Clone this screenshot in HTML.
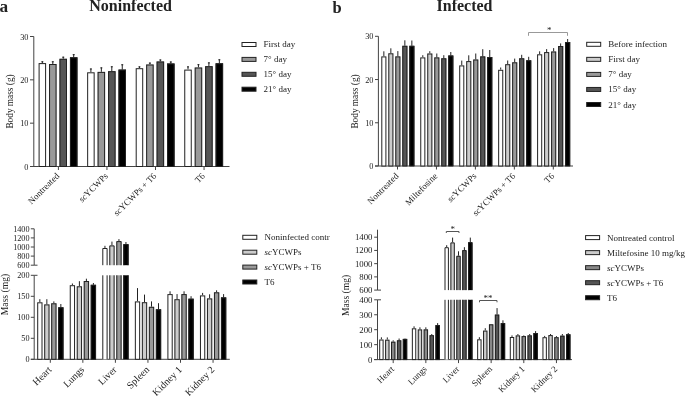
<!DOCTYPE html>
<html><head><meta charset="utf-8"><style>
html,body{margin:0;padding:0;background:#fff;}
body{width:685px;height:396px;overflow:hidden;}
svg{display:block;filter:grayscale(1) blur(0.35px);font-family:"Liberation Serif",serif;fill:#222;}
</style></head><body>
<svg width="685" height="396" viewBox="0 0 685 396">
<rect width="685" height="396" fill="#fff"/>
<g fill="#222">
<line x1="33.8" y1="36.5" x2="33.8" y2="166.5" stroke="#444" stroke-width="1"/>
<line x1="30" y1="166.5" x2="33.8" y2="166.5" stroke="#444" stroke-width="1"/>
<text x="28.5" y="169.5" font-size="8.3" text-anchor="end" >0</text>
<line x1="30" y1="123.16666666666666" x2="33.8" y2="123.16666666666666" stroke="#444" stroke-width="1"/>
<text x="28.5" y="126.16666666666666" font-size="8.3" text-anchor="end" >10</text>
<line x1="30" y1="79.83333333333333" x2="33.8" y2="79.83333333333333" stroke="#444" stroke-width="1"/>
<text x="28.5" y="82.83333333333333" font-size="8.3" text-anchor="end" >20</text>
<line x1="30" y1="36.5" x2="33.8" y2="36.5" stroke="#444" stroke-width="1"/>
<text x="28.5" y="39.5" font-size="8.3" text-anchor="end" >30</text>
<line x1="30" y1="166.5" x2="229.5" y2="166.5" stroke="#444" stroke-width="1"/>
<line x1="42.35" y1="61.3" x2="42.35" y2="63.1" stroke="#222" stroke-width="1"/>
<line x1="41.35" y1="61.8" x2="43.35" y2="61.8" stroke="#222" stroke-width="1"/>
<rect x="38.6" y="63.1" width="7.5" height="103.4" fill="#fff" stroke="none"/>
<rect x="39.1" y="63.6" width="6.5" height="102.9" fill="none" stroke="#222" stroke-width="1"/>
<line x1="52.8" y1="61.3" x2="52.8" y2="64" stroke="#222" stroke-width="1"/>
<line x1="51.8" y1="61.8" x2="53.8" y2="61.8" stroke="#222" stroke-width="1"/>
<rect x="49.05" y="64" width="7.5" height="102.5" fill="#999" stroke="none"/>
<rect x="49.55" y="64.5" width="6.5" height="102.0" fill="none" stroke="#222" stroke-width="1"/>
<line x1="63.25" y1="56.7" x2="63.25" y2="58.8" stroke="#222" stroke-width="1"/>
<line x1="62.25" y1="57.2" x2="64.25" y2="57.2" stroke="#222" stroke-width="1"/>
<rect x="59.5" y="58.8" width="7.5" height="107.7" fill="#555" stroke="none"/>
<rect x="60.0" y="59.3" width="6.5" height="107.2" fill="none" stroke="#222" stroke-width="1"/>
<line x1="73.7" y1="54.2" x2="73.7" y2="57.3" stroke="#222" stroke-width="1"/>
<line x1="72.7" y1="54.7" x2="74.7" y2="54.7" stroke="#222" stroke-width="1"/>
<rect x="69.95" y="57.3" width="7.5" height="109.2" fill="#000" stroke="none"/>
<rect x="70.45" y="57.8" width="6.5" height="108.7" fill="none" stroke="#222" stroke-width="1"/>
<line x1="58.400000000000006" y1="166.5" x2="58.400000000000006" y2="170.0" stroke="#444" stroke-width="1"/>
<text x="59.900000000000006" y="176.5" font-size="9" text-anchor="end" transform="rotate(-45 59.900000000000006 176.5)">Nontreated</text>
<line x1="90.9" y1="68.5" x2="90.9" y2="72.3" stroke="#222" stroke-width="1"/>
<line x1="89.9" y1="69.0" x2="91.9" y2="69.0" stroke="#222" stroke-width="1"/>
<rect x="87.15" y="72.3" width="7.5" height="94.2" fill="#fff" stroke="none"/>
<rect x="87.65" y="72.8" width="6.5" height="93.7" fill="none" stroke="#222" stroke-width="1"/>
<line x1="101.35" y1="67.4" x2="101.35" y2="71.9" stroke="#222" stroke-width="1"/>
<line x1="100.35" y1="67.9" x2="102.35" y2="67.9" stroke="#222" stroke-width="1"/>
<rect x="97.6" y="71.9" width="7.5" height="94.6" fill="#999" stroke="none"/>
<rect x="98.1" y="72.4" width="6.5" height="94.1" fill="none" stroke="#222" stroke-width="1"/>
<line x1="111.8" y1="66.3" x2="111.8" y2="71.2" stroke="#222" stroke-width="1"/>
<line x1="110.8" y1="66.8" x2="112.8" y2="66.8" stroke="#222" stroke-width="1"/>
<rect x="108.05" y="71.2" width="7.5" height="95.3" fill="#555" stroke="none"/>
<rect x="108.55" y="71.7" width="6.5" height="94.8" fill="none" stroke="#222" stroke-width="1"/>
<line x1="122.25" y1="64.3" x2="122.25" y2="69.6" stroke="#222" stroke-width="1"/>
<line x1="121.25" y1="64.8" x2="123.25" y2="64.8" stroke="#222" stroke-width="1"/>
<rect x="118.5" y="69.6" width="7.5" height="96.9" fill="#000" stroke="none"/>
<rect x="119.0" y="70.1" width="6.5" height="96.4" fill="none" stroke="#222" stroke-width="1"/>
<line x1="106.95" y1="166.5" x2="106.95" y2="170.0" stroke="#444" stroke-width="1"/>
<text x="108.45" y="176.5" font-size="9" text-anchor="end" transform="rotate(-45 108.45 176.5)"><tspan font-style="italic">sc</tspan>YCWPs</text>
<line x1="139.45" y1="66.4" x2="139.45" y2="68.2" stroke="#222" stroke-width="1"/>
<line x1="138.45" y1="66.9" x2="140.45" y2="66.9" stroke="#222" stroke-width="1"/>
<rect x="135.7" y="68.2" width="7.5" height="98.3" fill="#fff" stroke="none"/>
<rect x="136.2" y="68.7" width="6.5" height="97.8" fill="none" stroke="#222" stroke-width="1"/>
<line x1="149.9" y1="62.6" x2="149.9" y2="64.5" stroke="#222" stroke-width="1"/>
<line x1="148.9" y1="63.1" x2="150.9" y2="63.1" stroke="#222" stroke-width="1"/>
<rect x="146.15" y="64.5" width="7.5" height="102.0" fill="#999" stroke="none"/>
<rect x="146.65" y="65.0" width="6.5" height="101.5" fill="none" stroke="#222" stroke-width="1"/>
<line x1="160.35" y1="59.5" x2="160.35" y2="61.5" stroke="#222" stroke-width="1"/>
<line x1="159.35" y1="60.0" x2="161.35" y2="60.0" stroke="#222" stroke-width="1"/>
<rect x="156.6" y="61.5" width="7.5" height="105.0" fill="#555" stroke="none"/>
<rect x="157.1" y="62.0" width="6.5" height="104.5" fill="none" stroke="#222" stroke-width="1"/>
<line x1="170.8" y1="61.5" x2="170.8" y2="63.5" stroke="#222" stroke-width="1"/>
<line x1="169.8" y1="62.0" x2="171.8" y2="62.0" stroke="#222" stroke-width="1"/>
<rect x="167.05" y="63.5" width="7.5" height="103.0" fill="#000" stroke="none"/>
<rect x="167.55" y="64.0" width="6.5" height="102.5" fill="none" stroke="#222" stroke-width="1"/>
<line x1="155.5" y1="166.5" x2="155.5" y2="170.0" stroke="#444" stroke-width="1"/>
<text x="157.0" y="176.5" font-size="9" text-anchor="end" transform="rotate(-45 157.0 176.5)"><tspan font-style="italic">sc</tspan>YCWPs + T6</text>
<line x1="188.0" y1="66.4" x2="188.0" y2="69.6" stroke="#222" stroke-width="1"/>
<line x1="187.0" y1="66.9" x2="189.0" y2="66.9" stroke="#222" stroke-width="1"/>
<rect x="184.25" y="69.6" width="7.5" height="96.9" fill="#fff" stroke="none"/>
<rect x="184.75" y="70.1" width="6.5" height="96.4" fill="none" stroke="#222" stroke-width="1"/>
<line x1="198.45" y1="64.2" x2="198.45" y2="67.5" stroke="#222" stroke-width="1"/>
<line x1="197.45" y1="64.7" x2="199.45" y2="64.7" stroke="#222" stroke-width="1"/>
<rect x="194.7" y="67.5" width="7.5" height="99.0" fill="#999" stroke="none"/>
<rect x="195.2" y="68.0" width="6.5" height="98.5" fill="none" stroke="#222" stroke-width="1"/>
<line x1="208.9" y1="62.4" x2="208.9" y2="66.2" stroke="#222" stroke-width="1"/>
<line x1="207.9" y1="62.9" x2="209.9" y2="62.9" stroke="#222" stroke-width="1"/>
<rect x="205.15" y="66.2" width="7.5" height="100.3" fill="#555" stroke="none"/>
<rect x="205.65" y="66.7" width="6.5" height="99.8" fill="none" stroke="#222" stroke-width="1"/>
<line x1="219.35" y1="59.3" x2="219.35" y2="63.3" stroke="#222" stroke-width="1"/>
<line x1="218.35" y1="59.8" x2="220.35" y2="59.8" stroke="#222" stroke-width="1"/>
<rect x="215.6" y="63.3" width="7.5" height="103.2" fill="#000" stroke="none"/>
<rect x="216.1" y="63.8" width="6.5" height="102.7" fill="none" stroke="#222" stroke-width="1"/>
<line x1="204.04999999999998" y1="166.5" x2="204.04999999999998" y2="170.0" stroke="#444" stroke-width="1"/>
<text x="205.54999999999998" y="176.5" font-size="9" text-anchor="end" transform="rotate(-45 205.54999999999998 176.5)">T6</text>
<text x="0" y="0" font-size="9.3" text-anchor="middle" transform="translate(13.2 101.5) rotate(-90)">Body mass (g)</text>
<rect x="242.0" y="42.5" width="14" height="4" fill="#fff" stroke="#222" stroke-width="1"/>
<text x="263.6" y="47.0" font-size="9" text-anchor="start" >First day</text>
<rect x="242.0" y="57.4" width="14" height="4" fill="#999" stroke="#222" stroke-width="1"/>
<text x="263.6" y="61.9" font-size="9" text-anchor="start" >7° day</text>
<rect x="242.0" y="72.3" width="14" height="4" fill="#555" stroke="#222" stroke-width="1"/>
<text x="263.6" y="76.8" font-size="9" text-anchor="start" >15° day</text>
<rect x="242.0" y="87.2" width="14" height="4" fill="#000" stroke="#222" stroke-width="1"/>
<text x="263.6" y="91.7" font-size="9" text-anchor="start" >21° day</text>
<line x1="378.4" y1="36.3" x2="378.4" y2="166" stroke="#444" stroke-width="1"/>
<line x1="375" y1="166.0" x2="378.4" y2="166.0" stroke="#444" stroke-width="1"/>
<text x="373.5" y="169.0" font-size="8.3" text-anchor="end" >0</text>
<line x1="375" y1="122.76666666666667" x2="378.4" y2="122.76666666666667" stroke="#444" stroke-width="1"/>
<text x="373.5" y="125.76666666666667" font-size="8.3" text-anchor="end" >10</text>
<line x1="375" y1="79.53333333333333" x2="378.4" y2="79.53333333333333" stroke="#444" stroke-width="1"/>
<text x="373.5" y="82.53333333333333" font-size="8.3" text-anchor="end" >20</text>
<line x1="375" y1="36.30000000000001" x2="378.4" y2="36.30000000000001" stroke="#444" stroke-width="1"/>
<text x="373.5" y="39.30000000000001" font-size="8.3" text-anchor="end" >30</text>
<line x1="375" y1="166" x2="573" y2="166" stroke="#444" stroke-width="1"/>
<line x1="383.85" y1="51.3" x2="383.85" y2="56.4" stroke="#222" stroke-width="1"/>
<rect x="381.3" y="56.4" width="5.1" height="109.6" fill="#fff" stroke="none"/>
<rect x="381.8" y="56.9" width="4.1" height="109.1" fill="none" stroke="#222" stroke-width="1"/>
<line x1="390.85" y1="48.3" x2="390.85" y2="53.3" stroke="#222" stroke-width="1"/>
<rect x="388.3" y="53.3" width="5.1" height="112.7" fill="#ccc" stroke="none"/>
<rect x="388.8" y="53.8" width="4.1" height="112.2" fill="none" stroke="#222" stroke-width="1"/>
<line x1="397.85" y1="51.1" x2="397.85" y2="56.4" stroke="#222" stroke-width="1"/>
<rect x="395.3" y="56.4" width="5.1" height="109.6" fill="#999" stroke="none"/>
<rect x="395.8" y="56.9" width="4.1" height="109.1" fill="none" stroke="#222" stroke-width="1"/>
<line x1="404.85" y1="40.3" x2="404.85" y2="45.8" stroke="#222" stroke-width="1"/>
<rect x="402.3" y="45.8" width="5.1" height="120.2" fill="#555" stroke="none"/>
<rect x="402.8" y="46.3" width="4.1" height="119.7" fill="none" stroke="#222" stroke-width="1"/>
<line x1="411.85" y1="40.5" x2="411.85" y2="45.8" stroke="#222" stroke-width="1"/>
<rect x="409.3" y="45.8" width="5.1" height="120.2" fill="#000" stroke="none"/>
<rect x="409.8" y="46.3" width="4.1" height="119.7" fill="none" stroke="#222" stroke-width="1"/>
<line x1="397.5" y1="166" x2="397.5" y2="169.5" stroke="#444" stroke-width="1"/>
<text x="399.1" y="176.6" font-size="9" text-anchor="end" transform="rotate(-45 399.1 176.6)">Nontreated</text>
<line x1="422.8" y1="55.2" x2="422.8" y2="57.4" stroke="#222" stroke-width="1"/>
<rect x="420.25" y="57.4" width="5.1" height="108.6" fill="#fff" stroke="none"/>
<rect x="420.75" y="57.9" width="4.1" height="108.1" fill="none" stroke="#222" stroke-width="1"/>
<line x1="429.8" y1="51.2" x2="429.8" y2="53.5" stroke="#222" stroke-width="1"/>
<rect x="427.25" y="53.5" width="5.1" height="112.5" fill="#ccc" stroke="none"/>
<rect x="427.75" y="54.0" width="4.1" height="112.0" fill="none" stroke="#222" stroke-width="1"/>
<line x1="436.8" y1="53.5" x2="436.8" y2="57.4" stroke="#222" stroke-width="1"/>
<rect x="434.25" y="57.4" width="5.1" height="108.6" fill="#999" stroke="none"/>
<rect x="434.75" y="57.9" width="4.1" height="108.1" fill="none" stroke="#222" stroke-width="1"/>
<line x1="443.8" y1="55.2" x2="443.8" y2="58.3" stroke="#222" stroke-width="1"/>
<rect x="441.25" y="58.3" width="5.1" height="107.7" fill="#555" stroke="none"/>
<rect x="441.75" y="58.8" width="4.1" height="107.2" fill="none" stroke="#222" stroke-width="1"/>
<line x1="450.8" y1="52" x2="450.8" y2="55.5" stroke="#222" stroke-width="1"/>
<rect x="448.25" y="55.5" width="5.1" height="110.5" fill="#000" stroke="none"/>
<rect x="448.75" y="56.0" width="4.1" height="110.0" fill="none" stroke="#222" stroke-width="1"/>
<line x1="436.45" y1="166" x2="436.45" y2="169.5" stroke="#444" stroke-width="1"/>
<text x="438.05" y="176.6" font-size="9" text-anchor="end" transform="rotate(-45 438.05 176.6)">Miltefosine</text>
<line x1="461.75" y1="60.6" x2="461.75" y2="65.4" stroke="#222" stroke-width="1"/>
<rect x="459.2" y="65.4" width="5.1" height="100.6" fill="#fff" stroke="none"/>
<rect x="459.7" y="65.9" width="4.1" height="100.1" fill="none" stroke="#222" stroke-width="1"/>
<line x1="468.75" y1="55.3" x2="468.75" y2="61.1" stroke="#222" stroke-width="1"/>
<rect x="466.2" y="61.1" width="5.1" height="104.9" fill="#ccc" stroke="none"/>
<rect x="466.7" y="61.6" width="4.1" height="104.4" fill="none" stroke="#222" stroke-width="1"/>
<line x1="475.75" y1="53.5" x2="475.75" y2="59.5" stroke="#222" stroke-width="1"/>
<rect x="473.2" y="59.5" width="5.1" height="106.5" fill="#999" stroke="none"/>
<rect x="473.7" y="60.0" width="4.1" height="106.0" fill="none" stroke="#222" stroke-width="1"/>
<line x1="482.75" y1="49.2" x2="482.75" y2="56.4" stroke="#222" stroke-width="1"/>
<rect x="480.2" y="56.4" width="5.1" height="109.6" fill="#555" stroke="none"/>
<rect x="480.7" y="56.9" width="4.1" height="109.1" fill="none" stroke="#222" stroke-width="1"/>
<line x1="489.75" y1="50" x2="489.75" y2="57" stroke="#222" stroke-width="1"/>
<rect x="487.2" y="57" width="5.1" height="109" fill="#000" stroke="none"/>
<rect x="487.7" y="57.5" width="4.1" height="108.5" fill="none" stroke="#222" stroke-width="1"/>
<line x1="475.40000000000003" y1="166" x2="475.40000000000003" y2="169.5" stroke="#444" stroke-width="1"/>
<text x="477.00000000000006" y="176.6" font-size="9" text-anchor="end" transform="rotate(-45 477.00000000000006 176.6)"><tspan font-style="italic">sc</tspan>YCWPs</text>
<line x1="500.7" y1="67.5" x2="500.7" y2="69.8" stroke="#222" stroke-width="1"/>
<rect x="498.15" y="69.8" width="5.1" height="96.2" fill="#fff" stroke="none"/>
<rect x="498.65" y="70.3" width="4.1" height="95.7" fill="none" stroke="#222" stroke-width="1"/>
<line x1="507.7" y1="60.5" x2="507.7" y2="64.2" stroke="#222" stroke-width="1"/>
<rect x="505.15" y="64.2" width="5.1" height="101.8" fill="#ccc" stroke="none"/>
<rect x="505.65" y="64.7" width="4.1" height="101.3" fill="none" stroke="#222" stroke-width="1"/>
<line x1="514.6999999999999" y1="58.6" x2="514.6999999999999" y2="62.3" stroke="#222" stroke-width="1"/>
<rect x="512.15" y="62.3" width="5.1" height="103.7" fill="#999" stroke="none"/>
<rect x="512.65" y="62.8" width="4.1" height="103.2" fill="none" stroke="#222" stroke-width="1"/>
<line x1="521.6999999999999" y1="54.8" x2="521.6999999999999" y2="58.3" stroke="#222" stroke-width="1"/>
<rect x="519.15" y="58.3" width="5.1" height="107.7" fill="#555" stroke="none"/>
<rect x="519.65" y="58.8" width="4.1" height="107.2" fill="none" stroke="#222" stroke-width="1"/>
<line x1="528.6999999999999" y1="56.8" x2="528.6999999999999" y2="60.3" stroke="#222" stroke-width="1"/>
<rect x="526.15" y="60.3" width="5.1" height="105.7" fill="#000" stroke="none"/>
<rect x="526.65" y="60.8" width="4.1" height="105.2" fill="none" stroke="#222" stroke-width="1"/>
<line x1="514.35" y1="166" x2="514.35" y2="169.5" stroke="#444" stroke-width="1"/>
<text x="515.95" y="176.6" font-size="9" text-anchor="end" transform="rotate(-45 515.95 176.6)"><tspan font-style="italic">sc</tspan>YCWPs + T6</text>
<line x1="539.65" y1="51.3" x2="539.65" y2="54.3" stroke="#222" stroke-width="1"/>
<rect x="537.1" y="54.3" width="5.1" height="111.7" fill="#fff" stroke="none"/>
<rect x="537.6" y="54.8" width="4.1" height="111.2" fill="none" stroke="#222" stroke-width="1"/>
<line x1="546.65" y1="49.1" x2="546.65" y2="52.1" stroke="#222" stroke-width="1"/>
<rect x="544.1" y="52.1" width="5.1" height="113.9" fill="#ccc" stroke="none"/>
<rect x="544.6" y="52.6" width="4.1" height="113.4" fill="none" stroke="#222" stroke-width="1"/>
<line x1="553.65" y1="48.1" x2="553.65" y2="51.5" stroke="#222" stroke-width="1"/>
<rect x="551.1" y="51.5" width="5.1" height="114.5" fill="#999" stroke="none"/>
<rect x="551.6" y="52.0" width="4.1" height="114.0" fill="none" stroke="#222" stroke-width="1"/>
<line x1="560.65" y1="43.4" x2="560.65" y2="46" stroke="#222" stroke-width="1"/>
<rect x="558.1" y="46" width="5.1" height="120" fill="#555" stroke="none"/>
<rect x="558.6" y="46.5" width="4.1" height="119.5" fill="none" stroke="#222" stroke-width="1"/>
<line x1="567.65" y1="39" x2="567.65" y2="42" stroke="#222" stroke-width="1"/>
<rect x="565.1" y="42" width="5.1" height="124" fill="#000" stroke="none"/>
<rect x="565.6" y="42.5" width="4.1" height="123.5" fill="none" stroke="#222" stroke-width="1"/>
<line x1="553.3000000000001" y1="166" x2="553.3000000000001" y2="169.5" stroke="#444" stroke-width="1"/>
<text x="554.9000000000001" y="176.6" font-size="9" text-anchor="end" transform="rotate(-45 554.9000000000001 176.6)">T6</text>
<path d="M528.5,35.8 V32.5 H567.5 V35.8" fill="none" stroke="#999" stroke-width="1"/>
<text x="549.2" y="32.8" font-size="9" text-anchor="middle" >*</text>
<text x="0" y="0" font-size="9.3" text-anchor="middle" transform="translate(358 101.5) rotate(-90)">Body mass (g)</text>
<rect x="586.7" y="42.3" width="14" height="4" fill="#fff" stroke="#222" stroke-width="1"/>
<text x="608.3" y="47.3" font-size="9" text-anchor="start" >Before infection</text>
<rect x="586.7" y="57.349999999999994" width="14" height="4" fill="#ccc" stroke="#222" stroke-width="1"/>
<text x="608.3" y="62.35" font-size="9" text-anchor="start" >First day</text>
<rect x="586.7" y="72.4" width="14" height="4" fill="#999" stroke="#222" stroke-width="1"/>
<text x="608.3" y="77.4" font-size="9" text-anchor="start" >7° day</text>
<rect x="586.7" y="87.45" width="14" height="4" fill="#555" stroke="#222" stroke-width="1"/>
<text x="608.3" y="92.45" font-size="9" text-anchor="start" >15° day</text>
<rect x="586.7" y="102.5" width="14" height="4" fill="#000" stroke="#222" stroke-width="1"/>
<text x="608.3" y="107.5" font-size="9" text-anchor="start" >21° day</text>
<line x1="34.2" y1="228.8" x2="34.2" y2="265.2" stroke="#444" stroke-width="1"/>
<line x1="30.8" y1="265.2" x2="34.2" y2="265.2" stroke="#444" stroke-width="1"/>
<text x="29.5" y="268.2" font-size="8.2" text-anchor="end" >600</text>
<line x1="30.8" y1="256.1" x2="34.2" y2="256.1" stroke="#444" stroke-width="1"/>
<text x="29.5" y="259.1" font-size="8.2" text-anchor="end" >800</text>
<line x1="30.8" y1="247.0" x2="34.2" y2="247.0" stroke="#444" stroke-width="1"/>
<text x="29.5" y="250.0" font-size="8.2" text-anchor="end" >1000</text>
<line x1="30.8" y1="237.9" x2="34.2" y2="237.9" stroke="#444" stroke-width="1"/>
<text x="29.5" y="240.9" font-size="8.2" text-anchor="end" >1200</text>
<line x1="30.8" y1="228.8" x2="34.2" y2="228.8" stroke="#444" stroke-width="1"/>
<text x="29.5" y="231.8" font-size="8.2" text-anchor="end" >1400</text>
<line x1="34.2" y1="265.2" x2="37.5" y2="265.2" stroke="#444" stroke-width="1"/>
<line x1="34.2" y1="275.3" x2="34.2" y2="359.3" stroke="#444" stroke-width="1"/>
<line x1="30.8" y1="359.3" x2="34.2" y2="359.3" stroke="#444" stroke-width="1"/>
<text x="29.5" y="362.3" font-size="8.2" text-anchor="end" >0</text>
<line x1="30.8" y1="338.3" x2="34.2" y2="338.3" stroke="#444" stroke-width="1"/>
<text x="29.5" y="341.3" font-size="8.2" text-anchor="end" >50</text>
<line x1="30.8" y1="317.3" x2="34.2" y2="317.3" stroke="#444" stroke-width="1"/>
<text x="29.5" y="320.3" font-size="8.2" text-anchor="end" >100</text>
<line x1="30.8" y1="296.3" x2="34.2" y2="296.3" stroke="#444" stroke-width="1"/>
<text x="29.5" y="299.3" font-size="8.2" text-anchor="end" >150</text>
<line x1="30.8" y1="275.3" x2="34.2" y2="275.3" stroke="#444" stroke-width="1"/>
<text x="29.5" y="278.3" font-size="8.2" text-anchor="end" >200</text>
<line x1="34.2" y1="275.3" x2="37.5" y2="275.3" stroke="#444" stroke-width="1"/>
<line x1="30.8" y1="359.3" x2="229.8" y2="359.3" stroke="#444" stroke-width="1"/>
<line x1="39.85" y1="299.2" x2="39.85" y2="302.3" stroke="#222" stroke-width="1"/>
<rect x="37.2" y="302.3" width="5.3" height="57.0" fill="#fff" stroke="none"/>
<rect x="37.7" y="302.8" width="4.3" height="56.5" fill="none" stroke="#222" stroke-width="1"/>
<line x1="46.85" y1="299.2" x2="46.85" y2="304.4" stroke="#222" stroke-width="1"/>
<rect x="44.2" y="304.4" width="5.3" height="54.900000000000034" fill="#ccc" stroke="none"/>
<rect x="44.7" y="304.9" width="4.3" height="54.400000000000034" fill="none" stroke="#222" stroke-width="1"/>
<line x1="53.85" y1="301.4" x2="53.85" y2="303.3" stroke="#222" stroke-width="1"/>
<rect x="51.2" y="303.3" width="5.3" height="56.0" fill="#999" stroke="none"/>
<rect x="51.7" y="303.8" width="4.3" height="55.5" fill="none" stroke="#222" stroke-width="1"/>
<line x1="60.85" y1="304" x2="60.85" y2="307.3" stroke="#222" stroke-width="1"/>
<rect x="58.2" y="307.3" width="5.3" height="52.0" fill="#000" stroke="none"/>
<rect x="58.7" y="307.8" width="4.3" height="51.5" fill="none" stroke="#222" stroke-width="1"/>
<line x1="50.300000000000004" y1="359.3" x2="50.300000000000004" y2="362.8" stroke="#444" stroke-width="1"/>
<text x="52.300000000000004" y="370.3" font-size="10" text-anchor="end" transform="rotate(-45 52.300000000000004 370.3)">Heart</text>
<line x1="72.4" y1="283.5" x2="72.4" y2="285.2" stroke="#222" stroke-width="1"/>
<rect x="69.75" y="285.2" width="5.3" height="74.10000000000002" fill="#fff" stroke="none"/>
<rect x="70.25" y="285.7" width="4.3" height="73.60000000000002" fill="none" stroke="#222" stroke-width="1"/>
<line x1="79.4" y1="281.2" x2="79.4" y2="286.3" stroke="#222" stroke-width="1"/>
<rect x="76.75" y="286.3" width="5.3" height="73.0" fill="#ccc" stroke="none"/>
<rect x="77.25" y="286.8" width="4.3" height="72.5" fill="none" stroke="#222" stroke-width="1"/>
<line x1="86.4" y1="278.7" x2="86.4" y2="281" stroke="#222" stroke-width="1"/>
<rect x="83.75" y="281" width="5.3" height="78.30000000000001" fill="#999" stroke="none"/>
<rect x="84.25" y="281.5" width="4.3" height="77.80000000000001" fill="none" stroke="#222" stroke-width="1"/>
<line x1="93.4" y1="283" x2="93.4" y2="284.8" stroke="#222" stroke-width="1"/>
<rect x="90.75" y="284.8" width="5.3" height="74.5" fill="#000" stroke="none"/>
<rect x="91.25" y="285.3" width="4.3" height="74.0" fill="none" stroke="#222" stroke-width="1"/>
<line x1="82.85" y1="359.3" x2="82.85" y2="362.8" stroke="#444" stroke-width="1"/>
<text x="84.85" y="370.3" font-size="10" text-anchor="end" transform="rotate(-45 84.85 370.3)">Lungs</text>
<line x1="104.95" y1="245.8" x2="104.95" y2="248" stroke="#222" stroke-width="1"/>
<rect x="102.3" y="248" width="5.3" height="17.19999999999999" fill="#fff" stroke="none"/>
<path d="M102.8,265.2 V248.5 H107.1 V265.2" fill="none" stroke="#222" stroke-width="1"/>
<rect x="102.3" y="275.3" width="5.3" height="84.0" fill="#fff" stroke="none"/>
<path d="M102.8,275.3 V359.3 M107.1,275.3 V359.3" fill="none" stroke="#222" stroke-width="1"/>
<line x1="111.95" y1="241.6" x2="111.95" y2="245.4" stroke="#222" stroke-width="1"/>
<rect x="109.3" y="245.4" width="5.3" height="19.799999999999983" fill="#ccc" stroke="none"/>
<path d="M109.8,265.2 V245.9 H114.1 V265.2" fill="none" stroke="#222" stroke-width="1"/>
<rect x="109.3" y="275.3" width="5.3" height="84.0" fill="#ccc" stroke="none"/>
<path d="M109.8,275.3 V359.3 M114.1,275.3 V359.3" fill="none" stroke="#222" stroke-width="1"/>
<line x1="118.95" y1="239.1" x2="118.95" y2="241.1" stroke="#222" stroke-width="1"/>
<rect x="116.3" y="241.1" width="5.3" height="24.099999999999994" fill="#999" stroke="none"/>
<path d="M116.8,265.2 V241.6 H121.1 V265.2" fill="none" stroke="#222" stroke-width="1"/>
<rect x="116.3" y="275.3" width="5.3" height="84.0" fill="#999" stroke="none"/>
<path d="M116.8,275.3 V359.3 M121.1,275.3 V359.3" fill="none" stroke="#222" stroke-width="1"/>
<line x1="125.95" y1="242" x2="125.95" y2="244.1" stroke="#222" stroke-width="1"/>
<rect x="123.3" y="244.1" width="5.3" height="21.099999999999994" fill="#000" stroke="none"/>
<path d="M123.8,265.2 V244.6 H128.1 V265.2" fill="none" stroke="#222" stroke-width="1"/>
<rect x="123.3" y="275.3" width="5.3" height="84.0" fill="#000" stroke="none"/>
<path d="M123.8,275.3 V359.3 M128.1,275.3 V359.3" fill="none" stroke="#222" stroke-width="1"/>
<line x1="115.39999999999999" y1="359.3" x2="115.39999999999999" y2="362.8" stroke="#444" stroke-width="1"/>
<text x="117.39999999999999" y="370.3" font-size="10" text-anchor="end" transform="rotate(-45 117.39999999999999 370.3)">Liver</text>
<line x1="137.5" y1="288.1" x2="137.5" y2="301.4" stroke="#222" stroke-width="1"/>
<rect x="134.85" y="301.4" width="5.3" height="57.900000000000034" fill="#fff" stroke="none"/>
<rect x="135.35" y="301.9" width="4.3" height="57.400000000000034" fill="none" stroke="#222" stroke-width="1"/>
<line x1="144.5" y1="294.6" x2="144.5" y2="302.2" stroke="#222" stroke-width="1"/>
<rect x="141.85" y="302.2" width="5.3" height="57.10000000000002" fill="#ccc" stroke="none"/>
<rect x="142.35" y="302.7" width="4.3" height="56.60000000000002" fill="none" stroke="#222" stroke-width="1"/>
<line x1="151.5" y1="301.4" x2="151.5" y2="306.8" stroke="#222" stroke-width="1"/>
<rect x="148.85" y="306.8" width="5.3" height="52.5" fill="#999" stroke="none"/>
<rect x="149.35" y="307.3" width="4.3" height="52.0" fill="none" stroke="#222" stroke-width="1"/>
<line x1="158.5" y1="303.2" x2="158.5" y2="309.3" stroke="#222" stroke-width="1"/>
<rect x="155.85" y="309.3" width="5.3" height="50.0" fill="#000" stroke="none"/>
<rect x="156.35" y="309.8" width="4.3" height="49.5" fill="none" stroke="#222" stroke-width="1"/>
<line x1="147.95" y1="359.3" x2="147.95" y2="362.8" stroke="#444" stroke-width="1"/>
<text x="149.95" y="370.3" font-size="10" text-anchor="end" transform="rotate(-45 149.95 370.3)">Spleen</text>
<line x1="170.05" y1="291.3" x2="170.05" y2="294.1" stroke="#222" stroke-width="1"/>
<rect x="167.4" y="294.1" width="5.3" height="65.19999999999999" fill="#fff" stroke="none"/>
<rect x="167.9" y="294.6" width="4.3" height="64.69999999999999" fill="none" stroke="#222" stroke-width="1"/>
<line x1="177.05" y1="294.1" x2="177.05" y2="299.2" stroke="#222" stroke-width="1"/>
<rect x="174.4" y="299.2" width="5.3" height="60.10000000000002" fill="#ccc" stroke="none"/>
<rect x="174.9" y="299.7" width="4.3" height="59.60000000000002" fill="none" stroke="#222" stroke-width="1"/>
<line x1="184.05" y1="291.3" x2="184.05" y2="294.1" stroke="#222" stroke-width="1"/>
<rect x="181.4" y="294.1" width="5.3" height="65.19999999999999" fill="#999" stroke="none"/>
<rect x="181.9" y="294.6" width="4.3" height="64.69999999999999" fill="none" stroke="#222" stroke-width="1"/>
<line x1="191.05" y1="296.2" x2="191.05" y2="298.7" stroke="#222" stroke-width="1"/>
<rect x="188.4" y="298.7" width="5.3" height="60.60000000000002" fill="#000" stroke="none"/>
<rect x="188.9" y="299.2" width="4.3" height="60.10000000000002" fill="none" stroke="#222" stroke-width="1"/>
<line x1="180.49999999999997" y1="359.3" x2="180.49999999999997" y2="362.8" stroke="#444" stroke-width="1"/>
<text x="182.49999999999997" y="370.3" font-size="10" text-anchor="end" transform="rotate(-45 182.49999999999997 370.3)">Kidney 1</text>
<line x1="202.6" y1="292.9" x2="202.6" y2="295.4" stroke="#222" stroke-width="1"/>
<rect x="199.95" y="295.4" width="5.3" height="63.900000000000034" fill="#fff" stroke="none"/>
<rect x="200.45" y="295.9" width="4.3" height="63.400000000000034" fill="none" stroke="#222" stroke-width="1"/>
<line x1="209.6" y1="294.3" x2="209.6" y2="298.4" stroke="#222" stroke-width="1"/>
<rect x="206.95" y="298.4" width="5.3" height="60.900000000000034" fill="#ccc" stroke="none"/>
<rect x="207.45" y="298.9" width="4.3" height="60.400000000000034" fill="none" stroke="#222" stroke-width="1"/>
<line x1="216.6" y1="290.3" x2="216.6" y2="292.3" stroke="#222" stroke-width="1"/>
<rect x="213.95" y="292.3" width="5.3" height="67.0" fill="#999" stroke="none"/>
<rect x="214.45" y="292.8" width="4.3" height="66.5" fill="none" stroke="#222" stroke-width="1"/>
<line x1="223.6" y1="294.1" x2="223.6" y2="297.4" stroke="#222" stroke-width="1"/>
<rect x="220.95" y="297.4" width="5.3" height="61.900000000000034" fill="#000" stroke="none"/>
<rect x="221.45" y="297.9" width="4.3" height="61.400000000000034" fill="none" stroke="#222" stroke-width="1"/>
<line x1="213.04999999999998" y1="359.3" x2="213.04999999999998" y2="362.8" stroke="#444" stroke-width="1"/>
<text x="215.04999999999998" y="370.3" font-size="10" text-anchor="end" transform="rotate(-45 215.04999999999998 370.3)">Kidney 2</text>
<text x="0" y="0" font-size="9.6" text-anchor="middle" transform="translate(8.3 294.5) rotate(-90)">Mass (mg)</text>
<rect x="242.8" y="235.3" width="14" height="4" fill="#fff" stroke="#222" stroke-width="1"/>
<text x="264.5" y="240.3" font-size="9" text-anchor="start" >Noninfected contr</text>
<rect x="242.8" y="250.20000000000002" width="14" height="4" fill="#ccc" stroke="#222" stroke-width="1"/>
<text x="264.5" y="255.2" font-size="9" text-anchor="start" ><tspan font-style="italic">sc</tspan>YCWPs</text>
<rect x="242.8" y="265.1" width="14" height="4" fill="#999" stroke="#222" stroke-width="1"/>
<text x="264.5" y="270.1" font-size="9" text-anchor="start" ><tspan font-style="italic">sc</tspan>YCWPs + T6</text>
<rect x="242.8" y="280.0" width="14" height="4" fill="#000" stroke="#222" stroke-width="1"/>
<text x="264.5" y="285.0" font-size="9" text-anchor="start" >T6</text>
<line x1="377.5" y1="229.7" x2="377.5" y2="290.1" stroke="#444" stroke-width="1"/>
<line x1="374.2" y1="290.1" x2="377.5" y2="290.1" stroke="#444" stroke-width="1"/>
<text x="372.5" y="293.1" font-size="8.8" text-anchor="end" >600</text>
<line x1="374.2" y1="276.875" x2="377.5" y2="276.875" stroke="#444" stroke-width="1"/>
<text x="372.5" y="279.875" font-size="8.8" text-anchor="end" >800</text>
<line x1="374.2" y1="263.65" x2="377.5" y2="263.65" stroke="#444" stroke-width="1"/>
<text x="372.5" y="266.65" font-size="8.8" text-anchor="end" >1000</text>
<line x1="374.2" y1="250.425" x2="377.5" y2="250.425" stroke="#444" stroke-width="1"/>
<text x="372.5" y="253.425" font-size="8.8" text-anchor="end" >1200</text>
<line x1="374.2" y1="237.2" x2="377.5" y2="237.2" stroke="#444" stroke-width="1"/>
<text x="372.5" y="240.2" font-size="8.8" text-anchor="end" >1400</text>
<line x1="377.5" y1="290.1" x2="381" y2="290.1" stroke="#444" stroke-width="1"/>
<line x1="377.5" y1="299.8" x2="377.5" y2="359.6" stroke="#444" stroke-width="1"/>
<line x1="374.2" y1="359.6" x2="377.5" y2="359.6" stroke="#444" stroke-width="1"/>
<text x="372.5" y="362.6" font-size="8.8" text-anchor="end" >0</text>
<line x1="374.2" y1="344.65000000000003" x2="377.5" y2="344.65000000000003" stroke="#444" stroke-width="1"/>
<text x="372.5" y="347.65000000000003" font-size="8.8" text-anchor="end" >100</text>
<line x1="374.2" y1="329.70000000000005" x2="377.5" y2="329.70000000000005" stroke="#444" stroke-width="1"/>
<text x="372.5" y="332.70000000000005" font-size="8.8" text-anchor="end" >200</text>
<line x1="374.2" y1="314.75" x2="377.5" y2="314.75" stroke="#444" stroke-width="1"/>
<text x="372.5" y="317.75" font-size="8.8" text-anchor="end" >300</text>
<line x1="374.2" y1="299.8" x2="377.5" y2="299.8" stroke="#444" stroke-width="1"/>
<text x="372.5" y="302.8" font-size="8.8" text-anchor="end" >400</text>
<line x1="377.5" y1="299.8" x2="381" y2="299.8" stroke="#444" stroke-width="1"/>
<line x1="374.2" y1="359.6" x2="572" y2="359.6" stroke="#444" stroke-width="1"/>
<line x1="381.4" y1="337.3" x2="381.4" y2="339.5" stroke="#222" stroke-width="1"/>
<rect x="379.2" y="339.5" width="4.4" height="20.100000000000023" fill="#fff" stroke="none"/>
<rect x="379.7" y="340.0" width="3.4000000000000004" height="19.600000000000023" fill="none" stroke="#222" stroke-width="1"/>
<line x1="387.3" y1="337.4" x2="387.3" y2="339.7" stroke="#222" stroke-width="1"/>
<rect x="385.1" y="339.7" width="4.4" height="19.900000000000034" fill="#ccc" stroke="none"/>
<rect x="385.6" y="340.2" width="3.4000000000000004" height="19.400000000000034" fill="none" stroke="#222" stroke-width="1"/>
<line x1="393.2" y1="340.3" x2="393.2" y2="341.7" stroke="#222" stroke-width="1"/>
<rect x="391.0" y="341.7" width="4.4" height="17.900000000000034" fill="#888" stroke="none"/>
<rect x="391.5" y="342.2" width="3.4000000000000004" height="17.400000000000034" fill="none" stroke="#222" stroke-width="1"/>
<line x1="399.09999999999997" y1="338.5" x2="399.09999999999997" y2="340.3" stroke="#222" stroke-width="1"/>
<rect x="396.9" y="340.3" width="4.4" height="19.30000000000001" fill="#555" stroke="none"/>
<rect x="397.4" y="340.8" width="3.4000000000000004" height="18.80000000000001" fill="none" stroke="#222" stroke-width="1"/>
<line x1="405.0" y1="338.5" x2="405.0" y2="338.9" stroke="#222" stroke-width="1"/>
<rect x="402.8" y="338.9" width="4.4" height="20.700000000000045" fill="#000" stroke="none"/>
<rect x="403.3" y="339.4" width="3.4000000000000004" height="20.200000000000045" fill="none" stroke="#222" stroke-width="1"/>
<line x1="393.2" y1="359.6" x2="393.2" y2="363.1" stroke="#444" stroke-width="1"/>
<text x="394.7" y="369.6" font-size="9" text-anchor="end" transform="rotate(-45 394.7 369.6)">Heart</text>
<line x1="414.05" y1="326.3" x2="414.05" y2="328.3" stroke="#222" stroke-width="1"/>
<rect x="411.85" y="328.3" width="4.4" height="31.30000000000001" fill="#fff" stroke="none"/>
<rect x="412.35" y="328.8" width="3.4000000000000004" height="30.80000000000001" fill="none" stroke="#222" stroke-width="1"/>
<line x1="419.95" y1="327.3" x2="419.95" y2="329.4" stroke="#222" stroke-width="1"/>
<rect x="417.75" y="329.4" width="4.4" height="30.200000000000045" fill="#ccc" stroke="none"/>
<rect x="418.25" y="329.9" width="3.4000000000000004" height="29.700000000000045" fill="none" stroke="#222" stroke-width="1"/>
<line x1="425.84999999999997" y1="327.3" x2="425.84999999999997" y2="329.4" stroke="#222" stroke-width="1"/>
<rect x="423.65" y="329.4" width="4.4" height="30.200000000000045" fill="#888" stroke="none"/>
<rect x="424.15" y="329.9" width="3.4000000000000004" height="29.700000000000045" fill="none" stroke="#222" stroke-width="1"/>
<line x1="431.75" y1="334" x2="431.75" y2="335.2" stroke="#222" stroke-width="1"/>
<rect x="429.55" y="335.2" width="4.4" height="24.400000000000034" fill="#555" stroke="none"/>
<rect x="430.05" y="335.7" width="3.4000000000000004" height="23.900000000000034" fill="none" stroke="#222" stroke-width="1"/>
<line x1="437.65" y1="323.1" x2="437.65" y2="325.1" stroke="#222" stroke-width="1"/>
<rect x="435.45" y="325.1" width="4.4" height="34.5" fill="#000" stroke="none"/>
<rect x="435.95" y="325.6" width="3.4000000000000004" height="34.0" fill="none" stroke="#222" stroke-width="1"/>
<line x1="425.84999999999997" y1="359.6" x2="425.84999999999997" y2="363.1" stroke="#444" stroke-width="1"/>
<text x="427.34999999999997" y="369.6" font-size="9" text-anchor="end" transform="rotate(-45 427.34999999999997 369.6)">Lungs</text>
<line x1="446.7" y1="245.2" x2="446.7" y2="247.2" stroke="#222" stroke-width="1"/>
<rect x="444.5" y="247.2" width="4.4" height="42.900000000000034" fill="#fff" stroke="none"/>
<path d="M445.0,290.1 V247.7 H448.4 V290.1" fill="none" stroke="#222" stroke-width="1"/>
<rect x="444.5" y="299.8" width="4.4" height="59.80000000000001" fill="#fff" stroke="none"/>
<path d="M445.0,299.8 V359.6 M448.4,299.8 V359.6" fill="none" stroke="#222" stroke-width="1"/>
<line x1="452.59999999999997" y1="237.6" x2="452.59999999999997" y2="242.4" stroke="#222" stroke-width="1"/>
<rect x="450.4" y="242.4" width="4.4" height="47.70000000000002" fill="#ccc" stroke="none"/>
<path d="M450.9,290.1 V242.9 H454.29999999999995 V290.1" fill="none" stroke="#222" stroke-width="1"/>
<rect x="450.4" y="299.8" width="4.4" height="59.80000000000001" fill="#ccc" stroke="none"/>
<path d="M450.9,299.8 V359.6 M454.29999999999995,299.8 V359.6" fill="none" stroke="#222" stroke-width="1"/>
<line x1="458.5" y1="251.3" x2="458.5" y2="255.8" stroke="#222" stroke-width="1"/>
<rect x="456.3" y="255.8" width="4.4" height="34.30000000000001" fill="#888" stroke="none"/>
<path d="M456.8,290.1 V256.3 H460.2 V290.1" fill="none" stroke="#222" stroke-width="1"/>
<rect x="456.3" y="299.8" width="4.4" height="59.80000000000001" fill="#888" stroke="none"/>
<path d="M456.8,299.8 V359.6 M460.2,299.8 V359.6" fill="none" stroke="#222" stroke-width="1"/>
<line x1="464.4" y1="247.2" x2="464.4" y2="250.1" stroke="#222" stroke-width="1"/>
<rect x="462.2" y="250.1" width="4.4" height="40.00000000000003" fill="#555" stroke="none"/>
<path d="M462.7,290.1 V250.6 H466.09999999999997 V290.1" fill="none" stroke="#222" stroke-width="1"/>
<rect x="462.2" y="299.8" width="4.4" height="59.80000000000001" fill="#555" stroke="none"/>
<path d="M462.7,299.8 V359.6 M466.09999999999997,299.8 V359.6" fill="none" stroke="#222" stroke-width="1"/>
<line x1="470.3" y1="237.6" x2="470.3" y2="242.2" stroke="#222" stroke-width="1"/>
<rect x="468.1" y="242.2" width="4.4" height="47.900000000000034" fill="#000" stroke="none"/>
<path d="M468.6,290.1 V242.7 H472.0 V290.1" fill="none" stroke="#222" stroke-width="1"/>
<rect x="468.1" y="299.8" width="4.4" height="59.80000000000001" fill="#000" stroke="none"/>
<path d="M468.6,299.8 V359.6 M472.0,299.8 V359.6" fill="none" stroke="#222" stroke-width="1"/>
<line x1="458.5" y1="359.6" x2="458.5" y2="363.1" stroke="#444" stroke-width="1"/>
<text x="460.0" y="369.6" font-size="9" text-anchor="end" transform="rotate(-45 460.0 369.6)">Liver</text>
<line x1="479.34999999999997" y1="337.2" x2="479.34999999999997" y2="339.3" stroke="#222" stroke-width="1"/>
<rect x="477.15" y="339.3" width="4.4" height="20.30000000000001" fill="#fff" stroke="none"/>
<rect x="477.65" y="339.8" width="3.4000000000000004" height="19.80000000000001" fill="none" stroke="#222" stroke-width="1"/>
<line x1="485.25" y1="328.2" x2="485.25" y2="330.6" stroke="#222" stroke-width="1"/>
<rect x="483.05" y="330.6" width="4.4" height="29.0" fill="#ccc" stroke="none"/>
<rect x="483.55" y="331.1" width="3.4000000000000004" height="28.5" fill="none" stroke="#222" stroke-width="1"/>
<rect x="488.95" y="324.3" width="4.4" height="35.30000000000001" fill="#888" stroke="none"/>
<rect x="489.45" y="324.8" width="3.4000000000000004" height="34.80000000000001" fill="none" stroke="#222" stroke-width="1"/>
<line x1="497.05" y1="308.1" x2="497.05" y2="314.6" stroke="#222" stroke-width="1"/>
<rect x="494.85" y="314.6" width="4.4" height="45.0" fill="#555" stroke="none"/>
<rect x="495.35" y="315.1" width="3.4000000000000004" height="44.5" fill="none" stroke="#222" stroke-width="1"/>
<line x1="502.95" y1="320.3" x2="502.95" y2="323.1" stroke="#222" stroke-width="1"/>
<rect x="500.75" y="323.1" width="4.4" height="36.5" fill="#000" stroke="none"/>
<rect x="501.25" y="323.6" width="3.4000000000000004" height="36.0" fill="none" stroke="#222" stroke-width="1"/>
<line x1="491.15" y1="359.6" x2="491.15" y2="363.1" stroke="#444" stroke-width="1"/>
<text x="492.65" y="369.6" font-size="9" text-anchor="end" transform="rotate(-45 492.65 369.6)">Spleen</text>
<line x1="512.0" y1="335.4" x2="512.0" y2="337" stroke="#222" stroke-width="1"/>
<rect x="509.8" y="337" width="4.4" height="22.600000000000023" fill="#fff" stroke="none"/>
<rect x="510.3" y="337.5" width="3.4000000000000004" height="22.100000000000023" fill="none" stroke="#222" stroke-width="1"/>
<line x1="517.9000000000001" y1="334" x2="517.9000000000001" y2="335.4" stroke="#222" stroke-width="1"/>
<rect x="515.7" y="335.4" width="4.4" height="24.200000000000045" fill="#ccc" stroke="none"/>
<rect x="516.2" y="335.9" width="3.4000000000000004" height="23.700000000000045" fill="none" stroke="#222" stroke-width="1"/>
<line x1="523.8000000000001" y1="335.4" x2="523.8000000000001" y2="336.1" stroke="#222" stroke-width="1"/>
<rect x="521.6" y="336.1" width="4.4" height="23.5" fill="#888" stroke="none"/>
<rect x="522.1" y="336.6" width="3.4000000000000004" height="23.0" fill="none" stroke="#222" stroke-width="1"/>
<line x1="529.7" y1="334" x2="529.7" y2="335.4" stroke="#222" stroke-width="1"/>
<rect x="527.5" y="335.4" width="4.4" height="24.200000000000045" fill="#555" stroke="none"/>
<rect x="528.0" y="335.9" width="3.4000000000000004" height="23.700000000000045" fill="none" stroke="#222" stroke-width="1"/>
<line x1="535.6" y1="331.1" x2="535.6" y2="333" stroke="#222" stroke-width="1"/>
<rect x="533.4" y="333" width="4.4" height="26.600000000000023" fill="#000" stroke="none"/>
<rect x="533.9" y="333.5" width="3.4000000000000004" height="26.100000000000023" fill="none" stroke="#222" stroke-width="1"/>
<line x1="523.8" y1="359.6" x2="523.8" y2="363.1" stroke="#444" stroke-width="1"/>
<text x="525.3" y="369.6" font-size="9" text-anchor="end" transform="rotate(-45 525.3 369.6)">Kidney 1</text>
<line x1="544.6500000000001" y1="335.9" x2="544.6500000000001" y2="337.2" stroke="#222" stroke-width="1"/>
<rect x="542.45" y="337.2" width="4.4" height="22.400000000000034" fill="#fff" stroke="none"/>
<rect x="542.95" y="337.7" width="3.4000000000000004" height="21.900000000000034" fill="none" stroke="#222" stroke-width="1"/>
<line x1="550.5500000000001" y1="334" x2="550.5500000000001" y2="335.1" stroke="#222" stroke-width="1"/>
<rect x="548.35" y="335.1" width="4.4" height="24.5" fill="#ccc" stroke="none"/>
<rect x="548.85" y="335.6" width="3.4000000000000004" height="24.0" fill="none" stroke="#222" stroke-width="1"/>
<line x1="556.45" y1="336.1" x2="556.45" y2="337.2" stroke="#222" stroke-width="1"/>
<rect x="554.25" y="337.2" width="4.4" height="22.400000000000034" fill="#888" stroke="none"/>
<rect x="554.75" y="337.7" width="3.4000000000000004" height="21.900000000000034" fill="none" stroke="#222" stroke-width="1"/>
<line x1="562.35" y1="334" x2="562.35" y2="335.7" stroke="#222" stroke-width="1"/>
<rect x="560.15" y="335.7" width="4.4" height="23.900000000000034" fill="#555" stroke="none"/>
<rect x="560.65" y="336.2" width="3.4000000000000004" height="23.400000000000034" fill="none" stroke="#222" stroke-width="1"/>
<line x1="568.25" y1="333" x2="568.25" y2="334.3" stroke="#222" stroke-width="1"/>
<rect x="566.05" y="334.3" width="4.4" height="25.30000000000001" fill="#000" stroke="none"/>
<rect x="566.55" y="334.8" width="3.4000000000000004" height="24.80000000000001" fill="none" stroke="#222" stroke-width="1"/>
<line x1="556.45" y1="359.6" x2="556.45" y2="363.1" stroke="#444" stroke-width="1"/>
<text x="557.95" y="369.6" font-size="9" text-anchor="end" transform="rotate(-45 557.95 369.6)">Kidney 2</text>
<path d="M446.3,233 V231.5 H459 V233" fill="none" stroke="#555" stroke-width="1"/>
<text x="452.7" y="231.6" font-size="9" text-anchor="middle" >*</text>
<path d="M479.5,302.3 V300.5 H497 V302.3" fill="none" stroke="#555" stroke-width="1"/>
<text x="488" y="300.5" font-size="9" text-anchor="middle" >**</text>
<text x="0" y="0" font-size="9.6" text-anchor="middle" transform="translate(349 295.4) rotate(-90)">Mass (mg)</text>
<rect x="585.6" y="235.6" width="14" height="4" fill="#fff" stroke="#222" stroke-width="1"/>
<text x="606.9" y="240.6" font-size="9" text-anchor="start" >Nontreated control</text>
<rect x="585.6" y="250.63" width="14" height="4" fill="#ccc" stroke="#222" stroke-width="1"/>
<text x="606.9" y="255.63" font-size="9" text-anchor="start" >Miltefosine 10 mg/kg</text>
<rect x="585.6" y="265.65999999999997" width="14" height="4" fill="#888" stroke="#222" stroke-width="1"/>
<text x="606.9" y="270.66" font-size="9" text-anchor="start" ><tspan font-style="italic">sc</tspan>YCWPs</text>
<rect x="585.6" y="280.69" width="14" height="4" fill="#555" stroke="#222" stroke-width="1"/>
<text x="606.9" y="285.69" font-size="9" text-anchor="start" ><tspan font-style="italic">sc</tspan>YCWPs + T6</text>
<rect x="585.6" y="295.71999999999997" width="14" height="4" fill="#000" stroke="#222" stroke-width="1"/>
<text x="606.9" y="300.72" font-size="9" text-anchor="start" >T6</text>
<text x="-0.4" y="12.2" font-size="17.3" text-anchor="start" font-weight="bold">a</text>
<text x="130.6" y="11.4" font-size="16" text-anchor="middle" font-weight="bold">Noninfected</text>
<text x="332.5" y="12.5" font-size="16.5" text-anchor="start" font-weight="bold">b</text>
<text x="464.5" y="11.4" font-size="16" text-anchor="middle" font-weight="bold">Infected</text>
</g>
</svg>
</body></html>
